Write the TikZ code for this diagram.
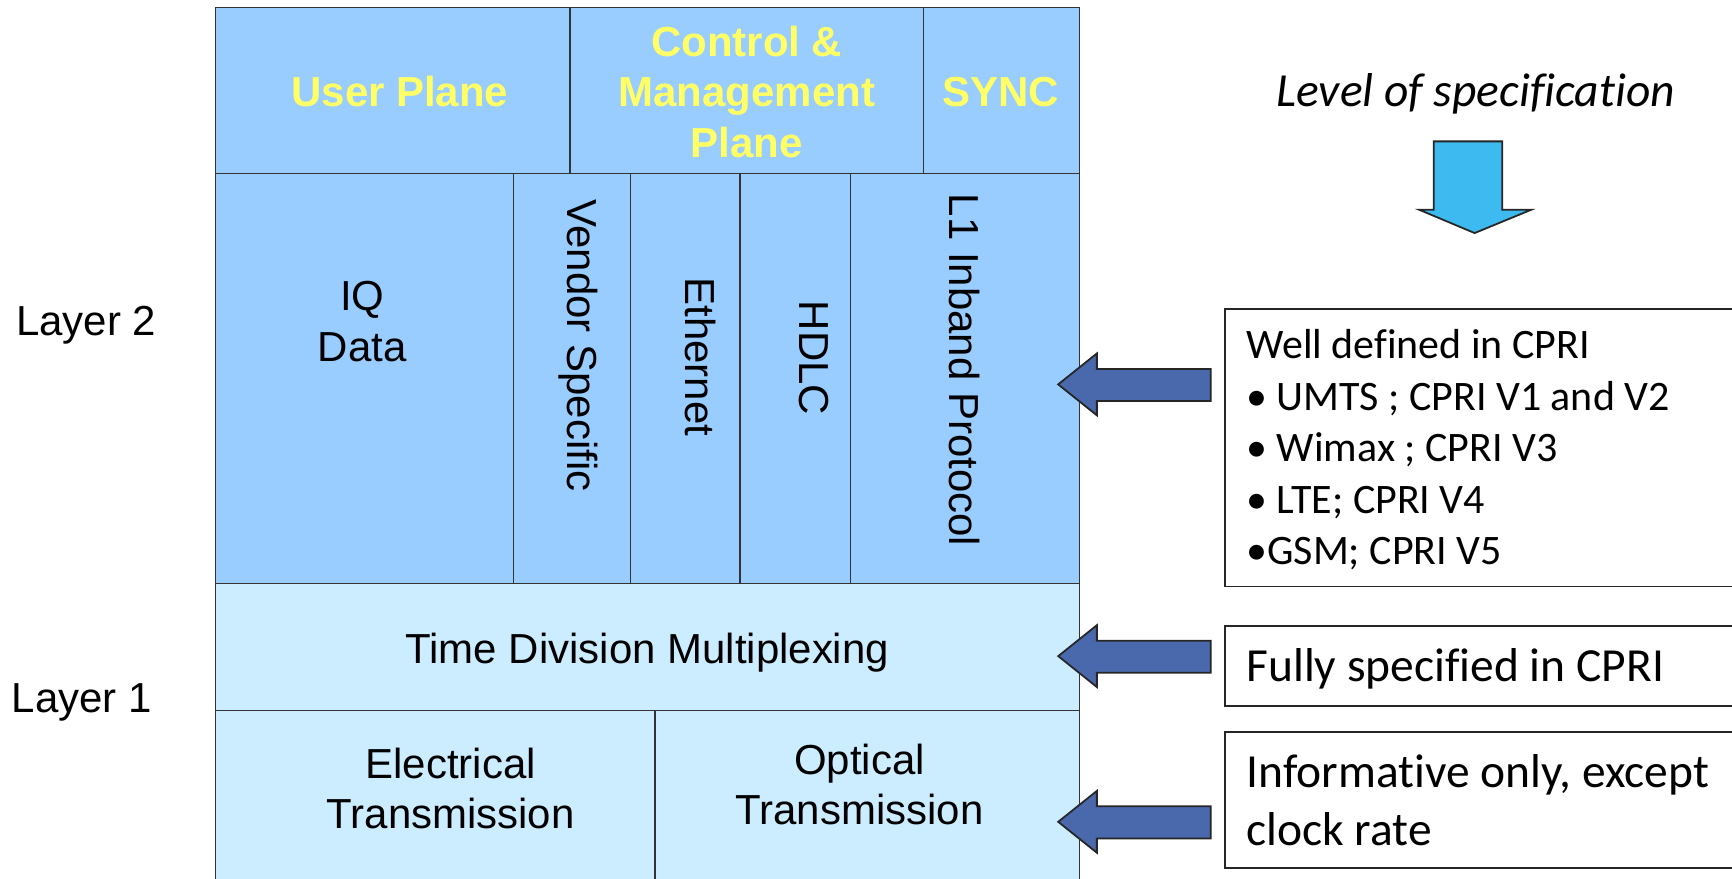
\documentclass[tikz,border=0pt]{standalone}
\usepackage{fontspec}
\setmainfont{Liberation Sans}
\newfontfamily\calibri[Ligatures=CommonOff]{Carlito}
\usepackage{tikz}
\definecolor{planeblue}{RGB}{153,204,255}
\definecolor{layerblue}{RGB}{204,236,255}
\definecolor{planeyellow}{RGB}{255,255,102}
\definecolor{arrowblue}{RGB}{74,104,172}
\definecolor{downcyan}{RGB}{61,187,240}
\newcommand{\armfont}{\fontsize{19}{22.8}\selectfont}
\newcommand{\notefont}{\calibri\fontsize{19}{23.3}\selectfont}
\newcommand{\bignote}{\calibri\fontsize{21.5}{26}\selectfont}

\tikzset{
  cell/.style={draw=black!80, line width=0.6pt},
  plane/.style={font=\armfont\bfseries, text=planeyellow, align=center, inner sep=0},
  proto/.style={font=\armfont, align=center, inner sep=0},
  note/.style={draw=black!85, line width=0.8pt},
  notetext/.style={align=left, inner sep=0},
  blockarrow/.style={draw=black!85, line width=0.8pt, fill=arrowblue, line join=miter},
}

\begin{document}
\begin{tikzpicture}[x=0.5pt, y=-0.5pt]
  \useasboundingbox (0,0) rectangle (1568,795);
  \clip (0,0) rectangle (1568,795);

  % protocol stack
  \fill[planeblue] (195,7) rectangle (977,528);
  \fill[layerblue] (195,528) rectangle (977,800);
  \draw[cell] (195,7) rectangle (977,800);
  \draw[cell] (195,157) -- (977,157);
  \draw[cell] (195,528) -- (977,528);
  \draw[cell] (195,643) -- (977,643);
  \draw[cell] (516,7) -- (516,157) (836,7) -- (836,157);
  \foreach \x in {465,571,670,770}
    \draw[cell] (\x,157) -- (\x,528);
  \draw[cell] (593,643) -- (593,800);

  % planes
  \node[plane] (user) at (362,83) {User Plane};
  \node[plane] (cm) at (676,83) {Control \&\\Management\\Plane};
  \node[plane] (sync) at (906,83) {SYNC};

  % layer 2
  \node[proto] (iq) at (328,291) {IQ\\Data};
  \node[proto, rotate=-90] (vendor) at (524,313) {Vendor Specific};
  \node[proto, rotate=-90] (eth) at (634,323) {Ethernet};
  \node[proto, rotate=-90] (hdlc) at (737,324) {HDLC};
  \node[proto, rotate=-90] (inband) at (873,335) {L1 Inband Protocol};

  % layer 1
  \node[proto, anchor=base] (tdm) at (586,601) {Time Division Multiplexing};
  \node[proto] (elec) at (408,714) {Electrical\\Transmission};
  \node[proto] (opt) at (778,710) {Optical\\Transmission};

  % layer labels
  \node[proto, anchor=base] (l2) at (78,304) {Layer 2};
  \node[proto, anchor=base] (l1) at (74,645) {Layer 1};

  % level of specification
  \node[font=\bignote\itshape, anchor=base, inner sep=0] (level) at (1336,96) {Level of specification};
  \draw[blockarrow, fill=downcyan] (1298,128) -- (1360,128) -- (1360,190) -- (1386,190)
    -- (1335,211) -- (1285,190) -- (1298,190) -- cycle;

  % arrows to the stack
  \foreach \y in {348,594,744}
    \draw[blockarrow] (958,\y) -- (993,{\y-28}) -- (993,{\y-14}) -- (1096,{\y-14})
      -- (1096,{\y+15}) -- (993,{\y+15}) -- (993,{\y+28}) -- cycle;

  % notes
  \draw[note] (1109,280) rectangle (1580,531);
  \draw[note] (1109,567) rectangle (1580,639);
  \draw[note] (1109,663) rectangle (1580,786);
  \node[font=\notefont, notetext, anchor=north west] (defined) at (1128,298)
    {Well defined in CPRI\\• UMTS ; CPRI V1 and V2\\• Wimax ; CPRI V3\\• LTE; CPRI V4\\•GSM; CPRI V5};
  \node[font=\bignote, notetext, anchor=base west] (fully) at (1128,617) {Fully specified in CPRI};
  \node[font=\bignote, notetext, anchor=north west] (inform) at (1128,683)
    {Informative only, except\\clock rate};
\end{tikzpicture}
\end{document}
